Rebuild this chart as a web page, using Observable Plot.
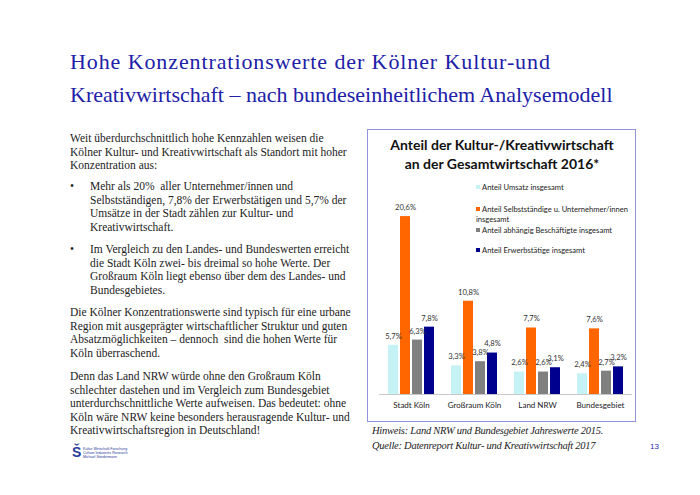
<!DOCTYPE html>
<html><head><meta charset="utf-8">
<script src="https://cdn.jsdelivr.net/npm/d3@7"></script>
<script src="https://cdn.jsdelivr.net/npm/@observablehq/plot@0.6"></script>
<style>
html,body{margin:0;padding:0;background:#fff;}
#page{position:relative;width:700px;height:495px;overflow:hidden;background:#fff;}
.title{position:absolute;left:70px;top:45px;font-family:"Liberation Serif",serif;font-size:22px;line-height:33px;color:#2020a8;white-space:nowrap;}
.txt{position:absolute;font-family:"Liberation Serif",serif;font-size:11.5px;line-height:13.5px;color:#222;white-space:nowrap;}
.bul{position:absolute;left:70px;font-family:"Liberation Serif",serif;font-size:11.5px;line-height:13.5px;color:#222;}
#box{position:absolute;left:367px;top:129px;width:267px;height:291px;border:1.5px solid #8f94dc;}
#ctitle{position:absolute;left:368px;top:135px;width:268px;text-align:center;font-family:Lato,sans-serif;font-weight:bold;font-size:14px;line-height:19px;color:#111;}
#chart{position:absolute;left:368px;top:175px;}
#legend{position:absolute;left:476px;top:183px;font-family:Lato,sans-serif;font-size:7.6px;color:#222;}
.li{position:absolute;left:0;white-space:nowrap;}
.sw{display:inline-block;width:4px;height:4px;margin-right:2px;vertical-align:1px;}
.foot{position:absolute;left:372px;top:423px;font-family:"Liberation Serif",serif;font-style:italic;font-size:10.5px;letter-spacing:-0.25px;line-height:15px;color:#222;white-space:nowrap;}
.pnum{position:absolute;left:650px;top:442px;font-family:"Liberation Sans",sans-serif;font-size:8px;color:#2a2ab0;}
.logo{position:absolute;left:72px;top:444px;}
.logo .s{position:absolute;left:0;top:0;font-family:"Liberation Sans",sans-serif;font-weight:bold;font-size:14px;color:#2a3a9a;line-height:16px;}
.logo .t{position:absolute;left:11px;top:3px;font-family:"Liberation Sans",sans-serif;font-size:3.6px;line-height:4.2px;color:#2a3a9a;white-space:nowrap;}
</style></head>
<body>
<div id="page">
  <div class="title"><span style="letter-spacing:0.9px">Hohe Konzentrationswerte der Kölner Kultur-und</span><br>Kreativwirtschaft – nach bundeseinheitlichem Analysemodell</div>

  <div class="txt" style="left:70px;top:132px;">Weit überdurchschnittlich hohe Kennzahlen weisen die<br>Kölner Kultur- und Kreativwirtschaft als Standort mit hoher<br>Konzentration aus:</div>
  <div class="bul" style="top:180px;">•</div>
  <div class="txt" style="left:90px;top:180px;">Mehr als 20%&nbsp; aller Unternehmer/innen und<br>Selbstständigen, 7,8% der Erwerbstätigen und 5,7% der<br>Umsätze in der Stadt zählen zur Kultur- und<br>Kreativwirtschaft.</div>
  <div class="bul" style="top:243px;">•</div>
  <div class="txt" style="left:90px;top:243px;">Im Vergleich zu den Landes- und Bundeswerten erreicht<br>die Stadt Köln zwei- bis dreimal so hohe Werte. Der<br>Großraum Köln liegt ebenso über dem des Landes- und<br>Bundesgebietes.</div>
  <div class="txt" style="left:70px;top:306px;">Die Kölner Konzentrationswerte sind typisch für eine urbane<br>Region mit ausgeprägter wirtschaftlicher Struktur und guten<br>Absatzmöglichkeiten – dennoch&nbsp; sind die hohen Werte für<br>Köln überraschend.</div>
  <div class="txt" style="left:70px;top:370px;">Denn das Land NRW würde ohne den Großraum Köln<br>schlechter dastehen und im Vergleich zum Bundesgebiet<br>unterdurchschnittliche Werte aufweisen. Das bedeutet: ohne<br>Köln wäre NRW keine besonders herausragende Kultur- und<br>Kreativwirtschaftsregion in Deutschland!</div>

  <div id="box"></div>
  <div id="ctitle">Anteil der Kultur-/Kreativwirtschaft<br>an der Gesamtwirtschaft 2016*</div>
  <div id="chart"></div>
  <div id="legend"></div>

  <div class="foot">Hinweis: Land NRW und Bundesgebiet Jahreswerte 2015.<br>Quelle: Datenreport Kultur- und Kreativwirtschaft 2017</div>
  <div class="pnum">13</div>
  <div class="logo"><div class="s">Š</div><div class="t">Kultur Wirtschaft Forschung<br>Culture Industries Research<br>Michael Söndermann</div></div>
</div>
<script>
const categories = ["Stadt Köln", "Großraum Köln", "Land NRW", "Bundesgebiet"];
const seriesNames = [
  "Anteil Umsatz insgesamt",
  "Anteil Selbstständige u. Unternehmer/innen insgesamt",
  "Anteil abhängig Beschäftigte insgesamt",
  "Anteil Erwerbstätige insgesamt"
];
const legendLabels = [
  "Anteil Umsatz insgesamt",
  "Anteil Selbstständige u. Unternehmer/innen<br>insgesamt",
  "Anteil abhängig Beschäftigte insgesamt",
  "Anteil Erwerbstätige insgesamt"
];
const seriesColors = ["#c4f2f5", "#ff6600", "#808080", "#00008f"];
const umsatz = [5.7, 3.3, 2.6, 2.4];
const selbststaendige = [20.6, 10.8, 7.7, 7.6];
const abhaengig = [6.3, 3.8, 2.6, 2.7];
const erwerbstaetige = [7.8, 4.8, 3.1, 3.2];

const seriesValues = [umsatz, selbststaendige, abhaengig, erwerbstaetige];
const data = [];
categories.forEach((c, i) => seriesNames.forEach((s, j) => data.push({cat: c, series: s, value: seriesValues[j][i]})));
const fmt = v => v.toFixed(1).replace(".", ",") + "%";

const chart = Plot.plot({
  width: 268, height: 245,
  marginLeft: 9, marginRight: 2, marginTop: 29, marginBottom: 26,
  style: {fontFamily: "Lato, sans-serif", fontSize: "8px", color: "#222", background: "transparent"},
  fx: {domain: categories, paddingInner: 0.168, paddingOuter: 0.1, label: null, axis: "bottom", tickSize: 0, tickPadding: 8},
  x: {domain: seriesNames, padding: 0.17, axis: null},
  y: {domain: [0, 22], axis: null},
  color: {domain: seriesNames, range: seriesColors},
  marks: [
    Plot.barY(data, {fx: "cat", x: "series", y: "value", fill: "series"}),
    Plot.ruleY([0], {stroke: "#c8c8c8", strokeWidth: 1, insetLeft: -6, insetRight: -6}),
    Plot.text(data, {fx: "cat", x: "series", y: "value", text: d => fmt(d.value), dy: -9, fontSize: 7.6, fill: "#333"})
  ]
});
document.getElementById("chart").appendChild(chart);

const leg = document.getElementById("legend");
const tops = [0, 22, 43, 63];
legendLabels.forEach((l, i) => {
  const d = document.createElement("div");
  d.className = "li";
  d.style.top = tops[i] + "px";
  d.style.lineHeight = "9.5px";
  d.innerHTML = `<span class="sw" style="background:${seriesColors[i]}"></span>${l}`;
  leg.appendChild(d);
});
</script>
</body></html>
